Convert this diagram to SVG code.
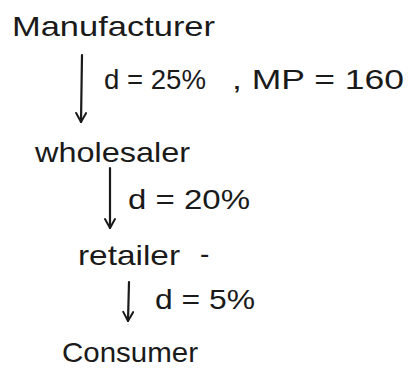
<svg xmlns="http://www.w3.org/2000/svg" width="409" height="371" viewBox="0 0 409 371">
<defs>
<style>
.t{font-family:"Liberation Sans","DejaVu Sans",sans-serif;fill:#1a1a1a;font-size:28px}
.c{stroke:#1a1a1a;stroke-width:2.2;fill:none;stroke-linecap:round}
</style>
<marker id="ah" viewBox="0 0 12 12" refX="11" refY="6" markerWidth="12" markerHeight="12" markerUnits="userSpaceOnUse" orient="auto">
<path d="M2,1 L11,6 L2,11" fill="none" stroke="#1a1a1a" stroke-width="2" stroke-linecap="round" stroke-linejoin="round"/>
</marker>
</defs>
<rect width="409" height="371" fill="#ffffff"/>
<g id="manufacturer"><text class="t" x="12" y="36" textLength="203" lengthAdjust="spacingAndGlyphs">Manufacturer</text></g>
<g id="wholesaler"><text class="t" x="35" y="162" textLength="155" lengthAdjust="spacingAndGlyphs">wholesaler</text></g>
<g id="retailer"><text class="t" x="78" y="265" textLength="102" lengthAdjust="spacingAndGlyphs">retailer</text><text class="t" x="200" y="263" font-size="18">-</text></g>
<g id="consumer"><text class="t" x="62" y="362" textLength="136" lengthAdjust="spacingAndGlyphs">Consumer</text></g>
<g id="connectors">
<line class="c" x1="82" y1="55" x2="81" y2="122" marker-end="url(#ah)"/>
<line class="c" x1="110" y1="168" x2="110" y2="228" marker-end="url(#ah)"/>
<line class="c" x1="129" y1="282" x2="128" y2="321" marker-end="url(#ah)"/>
<text class="t" x="104" y="89" textLength="102" lengthAdjust="spacingAndGlyphs">d = 25%</text>
<text class="t" x="232" y="89" textLength="172" lengthAdjust="spacingAndGlyphs">, MP = 160</text>
<text class="t" x="128" y="209" textLength="122" lengthAdjust="spacingAndGlyphs">d = 20%</text>
<text class="t" x="155" y="309" textLength="100" lengthAdjust="spacingAndGlyphs">d = 5%</text>
</g>
</svg>
